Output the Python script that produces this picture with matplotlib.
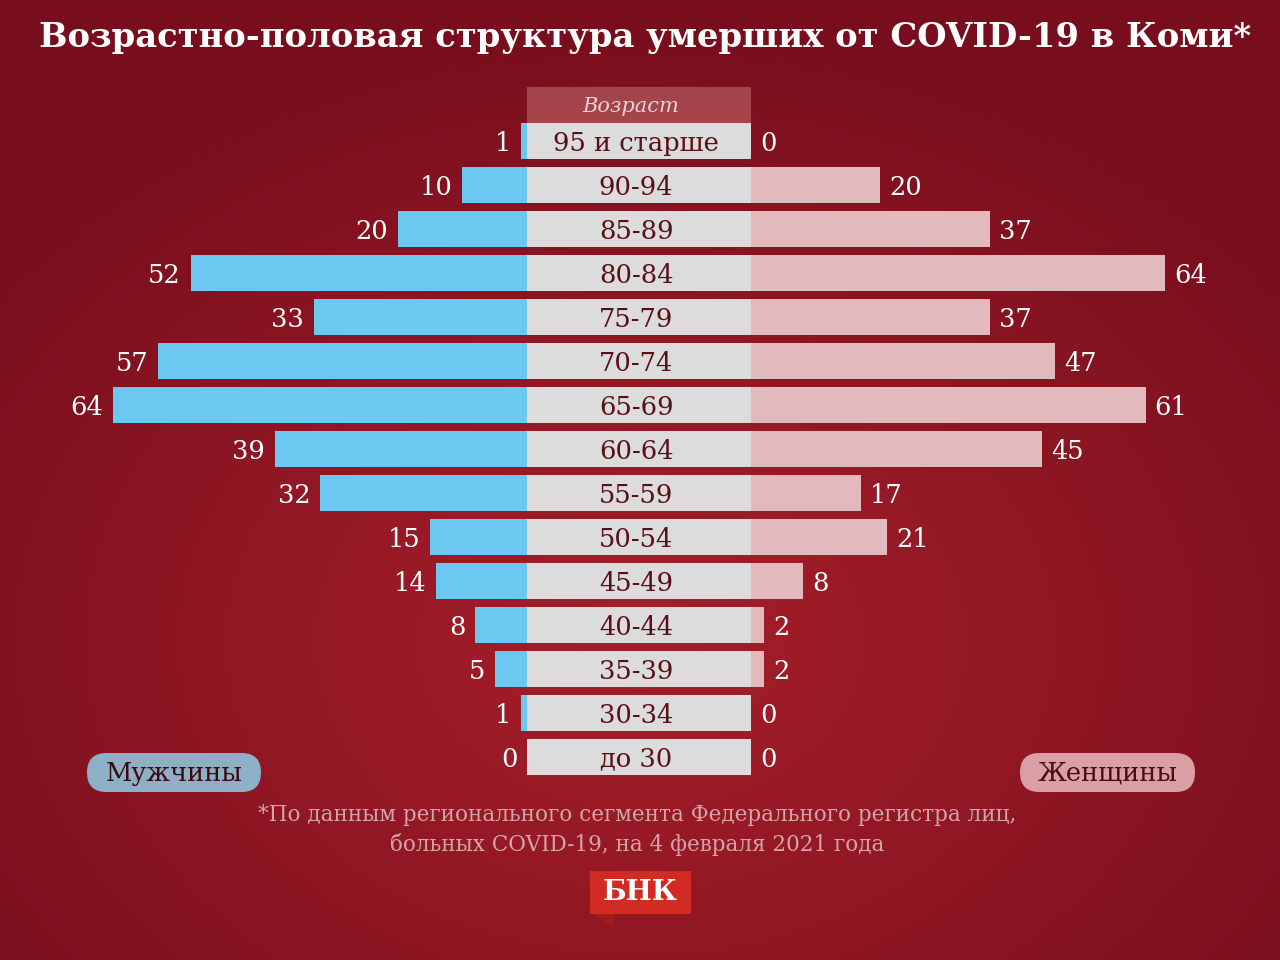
import numpy as np
import matplotlib
matplotlib.use("Agg")
import matplotlib.pyplot as plt
from matplotlib.patches import FancyBboxPatch, Rectangle, Polygon

# ---------------- data ----------------
ages = ['95 и старше', '90-94', '85-89', '80-84', '75-79', '70-74', '65-69',
        '60-64', '55-59', '50-54', '45-49', '40-44', '35-39', '30-34', 'до 30']
men = [1, 10, 20, 52, 33, 57, 64, 39, 32, 15, 14, 8, 5, 1, 0]
women = [0, 20, 37, 64, 37, 47, 61, 45, 17, 21, 8, 2, 2, 0, 0]

title = 'Возрастно-половая структура умерших от COVID-19 в Коми*'
header = 'Возраст'
legend_men = 'Мужчины'
legend_women = 'Женщины'
note = ('*По данным регионального сегмента Федерального регистра лиц,\n'
        'больных COVID-19, на 4 февраля 2021 года')
logo = 'БНК'

# ---------------- styling ----------------
W, H = 1280, 960
C_MEN = '#6cc8f0'
C_WOMEN = '#e2b9bc'
C_COL = '#dcdcdc'
C_LABEL = '#5a0f16'
FONT = 'DejaVu Serif'

fig = plt.figure(figsize=(W / 100, H / 100), dpi=100)

# background radial gradient
bg = fig.add_axes([0, 0, 1, 1])
bg.set_axis_off()
yy, xx = np.mgrid[0:H, 0:W]
d = np.sqrt(((xx - 640) / 820) ** 2 + ((yy - 640) / 620) ** 2)
d = np.clip(d, 0, 1) ** 1.2
c0 = np.array([0xa3, 0x1e, 0x29]) / 255
c1 = np.array([0x78, 0x0e, 0x1d]) / 255
img = c0[None, None, :] * (1 - d[..., None]) + c1[None, None, :] * d[..., None]
bg.imshow(img, extent=[0, W, H, 0], aspect='auto', zorder=0)
bg.set_xlim(0, W)
bg.set_ylim(H, 0)

# geometry (pixels)
X_COL_L, X_COL_R = 527, 751
PX_PER_UNIT = 414 / 64
ROW0, ROW_STEP = 141, 44
BAR_H = 36 / 44
ylim = ((H - ROW0) / ROW_STEP, -ROW0 / ROW_STEP)


def axes_px(x0, x1):
    ax = fig.add_axes([x0 / W, 0, (x1 - x0) / W, 1])
    ax.set_axis_off()
    ax.patch.set_alpha(0)
    ax.set_ylim(*ylim)
    return ax


rows = np.arange(len(ages))

# men (left)
axm = axes_px(0, X_COL_L)
axm.set_xlim(X_COL_L / PX_PER_UNIT, 0)
axm.barh(rows, men, height=BAR_H, color=C_MEN, linewidth=0)
for r, v in zip(rows, men):
    axm.annotate(str(v), (v, r), xytext=(-7, -1.5), textcoords='offset points',
                 ha='right', va='center', color='white', fontsize=18.5,
                 family=FONT)

# women (right)
axw = axes_px(X_COL_R, W)
axw.set_xlim(0, (W - X_COL_R) / PX_PER_UNIT)
axw.barh(rows, women, height=BAR_H, color=C_WOMEN, linewidth=0)
for r, v in zip(rows, women):
    axw.annotate(str(v), (v, r), xytext=(6.5, -1.5), textcoords='offset points',
                 ha='left', va='center', color='white', fontsize=18.5,
                 family=FONT)

# age column
axc = axes_px(X_COL_L, X_COL_R)
axc.set_xlim(0, 1)
axc.barh(rows, [1] * len(ages), height=BAR_H, color=C_COL, linewidth=0)
for r, lab in zip(rows, ages):
    axc.text(0.487, r + 0.05, lab, ha='center', va='center', color=C_LABEL,
             fontsize=18.5, family=FONT)
hdr_top = (87 - ROW0) / ROW_STEP
hdr_bot = (123 - ROW0) / ROW_STEP
axc.add_patch(Rectangle((0, hdr_top), 1, hdr_bot - hdr_top,
                        facecolor='#a4454c', edgecolor='none'))
axc.text(0.465, (hdr_top + hdr_bot) / 2 + 0.03, header, ha='center',
         va='center', color='#e9d3d3', fontsize=15, family=FONT,
         style='italic')

# title
bg.text(645, 37, title, ha='center', va='center', color='white',
        fontsize=24.3, fontweight='bold', family=FONT)

# legend pills
for (x0, x1, fc, tc, lab) in [(87, 261, '#8eb0c6', '#3b0a10', legend_men),
                              (1020, 1195, '#d99fa4', '#4a0c12', legend_women)]:
    y0, y1 = 753, 792
    bg.add_patch(FancyBboxPatch((x0, y0), x1 - x0, y1 - y0,
                                boxstyle='round,pad=0,rounding_size=19.5',
                                facecolor=fc, edgecolor='none', zorder=3))
    bg.text((x0 + x1) / 2, (y0 + y1) / 2 + 1, lab, ha='center', va='center',
            color=tc, fontsize=18.5, family=FONT, zorder=4)

# footnote
bg.text(637, 830, note, ha='center', va='center', color='#d5a4a8',
        fontsize=15.5, family=FONT, linespacing=1.35)

# logo
bg.add_patch(Polygon([(591, 913), (616, 913), (613, 926)], closed=True,
                     facecolor='#a11b1f', edgecolor='none', zorder=3))
bg.add_patch(Rectangle((590, 871), 101, 43, facecolor='#d22b24',
                       edgecolor='none', zorder=4))
bg.text(640.5, 893, logo, ha='center', va='center', color='white',
        fontsize=20, fontweight='bold', family=FONT, zorder=5)

fig.savefig('out.png', dpi=100)
